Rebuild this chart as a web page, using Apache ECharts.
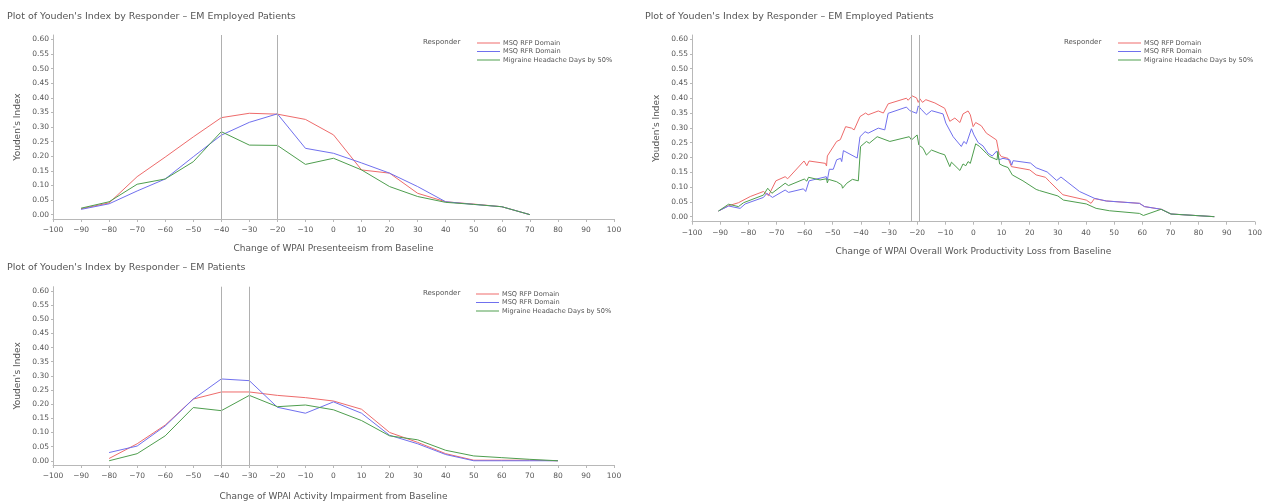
<!DOCTYPE html>
<html>
<head>
<meta charset="utf-8">
<script src="https://cdn.jsdelivr.net/npm/echarts@6/dist/echarts.min.js"></script>
<style>
html,body{margin:0;padding:0;background:#fff;}
#main{width:1265px;height:502px;}
</style>
</head>
<body>
<div id="main"></div>
<script>
// ---------- Data ----------
const seriesNames = ['MSQ RFP Domain', 'MSQ RFR Domain', 'Migraine Headache Days by 50%'];
const yTicks = [0, 0.05, 0.10, 0.15, 0.20, 0.25, 0.30, 0.35, 0.40, 0.45, 0.50, 0.55, 0.60];

// Chart 1: WPAI Presenteeism (EM employed)
const presX = [-90, -80, -70, -60, -50, -40, -30, -20, -10, 0, 10, 20, 30, 40, 50, 60, 70];
const presRFP = [0.020, 0.040, 0.130, 0.197, 0.266, 0.332, 0.347, 0.344, 0.326, 0.273, 0.153, 0.142, 0.073, 0.044, 0.036, 0.027, 0.000];
const presRFR = [0.018, 0.037, 0.081, 0.122, 0.198, 0.272, 0.316, 0.345, 0.227, 0.210, 0.177, 0.142, 0.096, 0.044, 0.035, 0.027, 0.000];
const presMHD = [0.022, 0.044, 0.104, 0.122, 0.181, 0.284, 0.238, 0.237, 0.172, 0.193, 0.153, 0.096, 0.062, 0.042, 0.035, 0.027, 0.000];
const presRefLines = [-40, -20];

// Chart 2: WPAI Overall Work Productivity Loss (EM employed) - [change, index]
const wplRFP = [[-90.6,0.019],[-87,0.037],[-83.5,0.047],[-79.3,0.068],[-74.6,0.085],[-72.8,0.071],[-70.2,0.121],[-66.9,0.135],[-66,0.128],[-60.2,0.188],[-59.2,0.172],[-58.4,0.188],[-52.6,0.18],[-52.2,0.171],[-51.9,0.205],[-48.6,0.254],[-47.3,0.26],[-46.9,0.254],[-45.4,0.304],[-43.3,0.299],[-42.4,0.293],[-40.3,0.338],[-38.3,0.35],[-37.4,0.344],[-33.8,0.357],[-32,0.35],[-30.3,0.381],[-23.8,0.40],[-23.2,0.393],[-21.8,0.408],[-20.2,0.401],[-19.6,0.386],[-19,0.398],[-18.1,0.386],[-16.9,0.395],[-13.7,0.384],[-10.2,0.366],[-8.4,0.322],[-6.6,0.333],[-4.8,0.318],[-3.7,0.347],[-3.1,0.343],[-1.9,0.357],[-1.1,0.344],[-0.1,0.304],[0.8,0.318],[2.8,0.307],[4.6,0.282],[8.2,0.259],[9.1,0.214],[9.9,0.203],[12.3,0.197],[13.5,0.169],[20,0.158],[22.3,0.141],[25.6,0.133],[27.1,0.118],[31.8,0.074],[40.1,0.056],[41.8,0.045],[43,0.061],[47.2,0.053],[59,0.045],[60.8,0.034],[66.7,0.025],[70.2,0.009],[85.6,0]];
const wplRFR = [[-90.6,0.019],[-87,0.036],[-82.9,0.028],[-81.1,0.043],[-74.6,0.065],[-73.4,0.079],[-71.4,0.065],[-66.9,0.09],[-65.7,0.082],[-60.4,0.094],[-59.6,0.085],[-58.4,0.121],[-52.3,0.135],[-51.9,0.124],[-51.2,0.16],[-49.8,0.16],[-48.6,0.192],[-47.2,0.197],[-46.8,0.186],[-46.2,0.223],[-41.3,0.198],[-40.3,0.27],[-38.5,0.287],[-37.4,0.282],[-33.8,0.299],[-31.5,0.293],[-30.3,0.349],[-23.8,0.37],[-22.6,0.358],[-20.2,0.349],[-19.6,0.374],[-18.4,0.361],[-16.7,0.344],[-14.9,0.358],[-10.8,0.347],[-9.8,0.316],[-7.2,0.27],[-4.3,0.237],[-3.4,0.254],[-2.5,0.246],[-0.7,0.297],[0.2,0.276],[1.7,0.25],[3.4,0.239],[5.2,0.214],[6.7,0.205],[8.3,0.222],[9.1,0.192],[10.5,0.197],[12.9,0.192],[13.6,0.174],[14.1,0.189],[20.3,0.181],[22.3,0.165],[26.2,0.151],[29.6,0.122],[31.1,0.134],[37.7,0.085],[43,0.062],[47.2,0.053],[59,0.045],[60.8,0.034],[66.7,0.025],[70.2,0.009],[85.6,0]];
const wplMHD = [[-90.6,0.019],[-87,0.042],[-83.5,0.034],[-81.7,0.047],[-74.6,0.073],[-73.1,0.096],[-71.6,0.079],[-66.9,0.113],[-65.7,0.105],[-60.1,0.127],[-59.2,0.12],[-58.6,0.133],[-54.5,0.124],[-52.2,0.128],[-51.9,0.114],[-51.5,0.126],[-48.6,0.118],[-46.8,0.107],[-46.5,0.096],[-45,0.113],[-43,0.126],[-40.9,0.121],[-40.1,0.237],[-38,0.254],[-37,0.248],[-34.2,0.27],[-29.7,0.254],[-22.8,0.27],[-22,0.259],[-20,0.276],[-19.4,0.242],[-17.9,0.231],[-16.7,0.208],[-14.9,0.225],[-11.9,0.214],[-10.2,0.209],[-8.4,0.169],[-7.8,0.184],[-4.8,0.156],[-3.7,0.178],[-2.7,0.172],[-1.9,0.186],[-1.1,0.18],[0.8,0.246],[2.2,0.237],[4.6,0.214],[5.8,0.203],[8.4,0.192],[8.7,0.22],[9.3,0.178],[10.5,0.172],[12.3,0.166],[13.8,0.141],[17.6,0.121],[22.3,0.092],[23.5,0.088],[30,0.07],[32,0.056],[40.1,0.043],[43.6,0.028],[48.3,0.02],[59,0.011],[60.4,0.004],[66.7,0.025],[70.2,0.009],[85.6,0]];
const wplRefLines = [-22, -19.4];

// Chart 3: WPAI Activity Impairment (EM)
const actX = [-80, -70, -60, -50, -40, -30, -20, -10, 0, 10, 20, 30, 40, 50, 60, 70, 80];
const actRFP = [0.008, 0.060, 0.126, 0.218, 0.243, 0.243, 0.231, 0.223, 0.211, 0.182, 0.100, 0.065, 0.025, 0.002, 0.002, 0.002, 0.000];
const actRFR = [0.029, 0.052, 0.123, 0.218, 0.289, 0.283, 0.189, 0.168, 0.208, 0.168, 0.090, 0.060, 0.022, 0.000, 0.000, 0.000, 0.000];
const actMHD = [0.000, 0.025, 0.088, 0.188, 0.177, 0.231, 0.191, 0.197, 0.180, 0.142, 0.088, 0.074, 0.037, 0.017, 0.011, 0.005, 0.000];
const actRefLines = [-40, -30];

const titleText1 = "Plot of Youden's Index by Responder \u2013 EM Employed Patients";
const titleText3 = "Plot of Youden's Index by Responder \u2013 EM Patients";
const xTitle1 = 'Change of WPAI Presenteeism from Baseline';
const xTitle2 = 'Change of WPAI Overall Work Productivity Loss from Baseline';
const xTitle3 = 'Change of WPAI Activity Impairment from Baseline';
const yTitle = "Youden's Index";

// ---------- Styling ----------
const FONT = 'DejaVu Sans';
const TXT = '#555555';
const AX = '#b8b8b8';
const colors = ['#ee6b6b', '#7070ee', '#4e9e4e'];

const panels = [
  {grid: {left: 53, top: 35, width: 561, height: 184}, ymin: -0.015, ymax: 0.615, xGap: 25,
   title: titleText1, tLeft: 7, tTop: 12, xname: xTitle1, legLeft: 477, legTop: 39, respLeft: 423},
  {grid: {left: 692, top: 35, width: 564, height: 186.7}, ymin: -0.017, ymax: 0.6135, xGap: 25,
   title: titleText1, tLeft: 645, tTop: 12, xname: xTitle2, legLeft: 1118, legTop: 39, respLeft: 1064},
  {grid: {left: 53, top: 286.7, width: 561, height: 183.3}, ymin: -0.015, ymax: 0.615, xGap: 27,
   title: titleText3, tLeft: 7, tTop: 263, xname: xTitle3, legLeft: 476, legTop: 290, respLeft: 423}
];

const option = {
  animation: false,
  backgroundColor: '#ffffff',
  textStyle: {fontFamily: FONT},
  title: [], legend: [], grid: [], xAxis: [], yAxis: [], series: []
};

panels.forEach((p, i) => {
  option.title.push({text: p.title, left: p.tLeft, top: p.tTop, padding: 0,
    textStyle: {fontFamily: FONT, fontSize: 9.5, fontWeight: 'normal', color: TXT}});
  option.title.push({text: 'Responder', left: p.respLeft, top: p.legTop, padding: 0,
    textStyle: {fontFamily: FONT, fontSize: 7, fontWeight: 'normal', color: TXT}});
  option.legend.push({
    data: seriesNames.map((n, k) => ({name: n, itemStyle: {color: colors[k], borderWidth: 0}})),
    orient: 'vertical', left: p.legLeft, top: p.legTop,
    padding: 0, icon: 'rect', itemWidth: 23, itemHeight: 1, itemGap: 0.5, selectedMode: false,
    itemStyle: {borderWidth: 0},
    textStyle: {fontFamily: FONT, fontSize: 6.6, lineHeight: 8, color: TXT, padding: [0, 0, 0, -2]}});
  option.grid.push(Object.assign({containLabel: false}, p.grid));
  option.xAxis.push({type: 'value', gridIndex: i, min: -100, max: 100, interval: 10,
    name: p.xname, nameLocation: 'middle', nameGap: p.xGap,
    nameTextStyle: {fontFamily: FONT, fontSize: 9, color: TXT},
    axisLine: {show: true, onZero: false, lineStyle: {color: AX, width: 1}},
    axisTick: {show: true, length: 3, inside: false, lineStyle: {color: AX}},
    axisLabel: {fontFamily: FONT, fontSize: 7.5, color: TXT, margin: 7,
      formatter: v => (v < 0 ? '\u2212' + Math.abs(v) : String(v))},
    splitLine: {show: false}});
  option.yAxis.push({type: 'value', gridIndex: i, min: p.ymin, max: p.ymax,
    name: yTitle, nameLocation: 'middle', nameGap: 31, nameRotate: 90,
    nameTextStyle: {fontFamily: FONT, fontSize: 9, color: TXT},
    axisLine: {show: true, onZero: false, lineStyle: {color: AX, width: 1}},
    axisTick: {show: true, length: 2, customValues: yTicks, lineStyle: {color: AX}},
    axisLabel: {fontFamily: FONT, fontSize: 7.5, color: TXT, margin: 4,
      customValues: yTicks, formatter: v => v.toFixed(2)},
    splitLine: {show: false}});
});

function refLine(vals) {
  return {silent: true, symbol: 'none', label: {show: false},
    lineStyle: {color: '#b0b0b0', width: 1, type: 'solid'},
    data: vals.map(v => ({xAxis: v}))};
}
function zipXY(xs, ys) { return xs.map((x, k) => [x, ys[k]]); }

const panelData = [
  [zipXY(presX, presRFP), zipXY(presX, presRFR), zipXY(presX, presMHD), presRefLines],
  [wplRFP, wplRFR, wplMHD, wplRefLines],
  [zipXY(actX, actRFP), zipXY(actX, actRFR), zipXY(actX, actMHD), actRefLines]
];

panelData.forEach((pd, i) => {
  for (let s = 0; s < 3; s++) {
    const ser = {type: 'line', name: seriesNames[s], xAxisIndex: i, yAxisIndex: i,
      data: pd[s], symbol: 'none', showSymbol: false, smooth: false,
      lineStyle: {color: colors[s], width: 1}, itemStyle: {color: colors[s]}};
    if (s === 0) ser.markLine = refLine(pd[3]);
    option.series.push(ser);
  }
});

const chart = echarts.init(document.getElementById('main'), null, {renderer: 'canvas'});
chart.setOption(option);
</script>
</body>
</html>
